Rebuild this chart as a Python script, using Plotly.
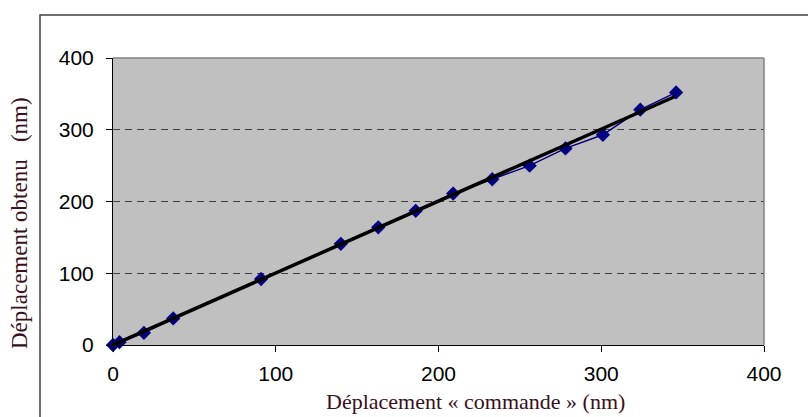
import plotly.graph_objects as go

# Measured displacement vs. commanded displacement (nm)
commande = [0, 4, 19, 37, 91, 140, 163, 186, 209, 233, 256, 278, 301, 324, 346]
obtenu = [0, 4, 17, 37, 92, 141, 164, 187, 211, 231, 250, 274, 293, 328, 352]

# Linear trend line endpoints
trend_x = [0, 345]
trend_y = [0, 346]

tick_vals = [0, 100, 200, 300, 400]
tick_text = ["0", "100", "200", "300", "400"]

W, H = 808, 417
L, R, T, B = 113, 44, 58, 72
pw, ph = W - L - R, H - T - B


def px_x(p):
    return (p - L) / pw


def px_y(p):
    return (H - B - p) / ph


title_color = "#3a1020"
serif = "Liberation Serif, Times New Roman, serif"
tick_font = dict(family="Liberation Sans, Arial, sans-serif", size=21, color="black")

fig = go.Figure()

fig.add_trace(go.Scatter(
    x=commande, y=obtenu, mode="lines+markers",
    line=dict(color="#000080", width=1.5),
    marker=dict(symbol="diamond", size=11, color="#000080",
                line=dict(color="#000080", width=0)),
    cliponaxis=False, showlegend=False, hoverinfo="skip",
))

fig.add_trace(go.Scatter(
    x=trend_x, y=trend_y, mode="lines",
    line=dict(color="black", width=3.5),
    cliponaxis=False, showlegend=False, hoverinfo="skip",
))

axis_common = dict(
    range=[0, 400], tickvals=tick_vals, ticktext=tick_text,
    ticks="outside", ticklen=6, tickwidth=1, tickcolor="black",
    showline=True, linecolor="black", linewidth=1,
    zeroline=False, tickfont=tick_font, fixedrange=True,
)

fig.update_xaxes(**axis_common, showgrid=False, ticklabelstandoff=4)
fig.update_yaxes(**axis_common, showgrid=True, gridcolor="#404040",
                 gridwidth=1, griddash="7px,5px", ticklabelstandoff=8)

# Plot-area top and right edges (gray), and the outer chart frame
fig.add_shape(type="line", xref="paper", yref="paper", x0=0, x1=1, y0=1, y1=1,
              line=dict(color="#808080", width=1.5), layer="above")
fig.add_shape(type="line", xref="paper", yref="paper", x0=1, x1=1, y0=0, y1=1,
              line=dict(color="#808080", width=1.5), layer="above")
fig.add_shape(type="rect", xref="paper", yref="paper",
              x0=px_x(40), x1=px_x(W + 20), y0=px_y(H + 20), y1=px_y(15),
              line=dict(color="#404040", width=1.5), layer="above")

fig.add_annotation(
    text="Déplacement « commande » (nm)", xref="paper", yref="paper",
    x=px_x(475), y=px_y(401), showarrow=False,
    font=dict(family=serif, size=22, color=title_color),
    xanchor="center", yanchor="middle",
)
fig.add_annotation(
    text="Déplacement obtenu\u00a0\u00a0\u00a0(nm)", xref="paper", yref="paper",
    x=px_x(20), y=px_y(223), showarrow=False,
    font=dict(family=serif, size=23, color=title_color),
    textangle=-90, xanchor="center", yanchor="middle",
)

fig.update_layout(
    width=W, height=H,
    margin=dict(l=L, r=R, t=T, b=B),
    plot_bgcolor="#C0C0C0", paper_bgcolor="white",
)

fig.write_html("out.html", config={"displayModeBar": False})
